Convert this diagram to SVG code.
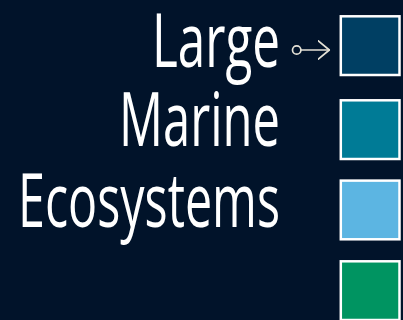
<svg xmlns="http://www.w3.org/2000/svg" width="403" height="320" viewBox="0 0 403 320">
  <style>
    .title { font-family: "Open Sans", "Liberation Sans", sans-serif; font-size: 75px; font-weight: 500; fill: #ffffff; text-anchor: end; }
    .sq { stroke: #ffffff; stroke-width: 2.5; }
    .conn { stroke: #e4e1d6; stroke-width: 1.7; fill: none; stroke-linecap: round; stroke-linejoin: round; }
  </style>
  <defs>
    <marker id="chev" viewBox="0 0 12 20" refX="11.5" refY="10" markerWidth="12" markerHeight="20" markerUnits="userSpaceOnUse" orient="auto">
      <path d="M0.5,0.8 L11.5,10 L0.5,19.2" fill="none" stroke="#e4e1d6" stroke-width="1.7" stroke-linecap="round" stroke-linejoin="round"/>
    </marker>
  </defs>
  <rect width="403" height="320" fill="#01132a"/>
  <g id="title">
    <text class="title" x="280" y="67" textLength="128" lengthAdjust="spacingAndGlyphs">Large</text>
    <text class="title" x="280" y="146" textLength="161" lengthAdjust="spacingAndGlyphs">Marine</text>
    <text class="title" x="280" y="227" textLength="262" lengthAdjust="spacingAndGlyphs">Ecosystems</text>
  </g>
  <g id="connectors">
    <circle class="conn" cx="296.7" cy="50" r="4.2"/>
    <path class="conn" d="M300.9,50 L329.3,50" marker-end="url(#chev)"/>
  </g>
  <g id="box1"><rect class="sq" x="340.8" y="16.3" width="58.7" height="58.7" fill="#003f63"/></g>
  <g id="box2"><rect class="sq" x="340.8" y="100.3" width="58.7" height="58.7" fill="#007b96"/></g>
  <g id="box3"><rect class="sq" x="340.8" y="180.6" width="58.7" height="58.7" fill="#5cb5e2"/></g>
  <g id="box4"><rect class="sq" x="340.8" y="261.3" width="58.7" height="58.7" fill="#009461"/></g>
</svg>
